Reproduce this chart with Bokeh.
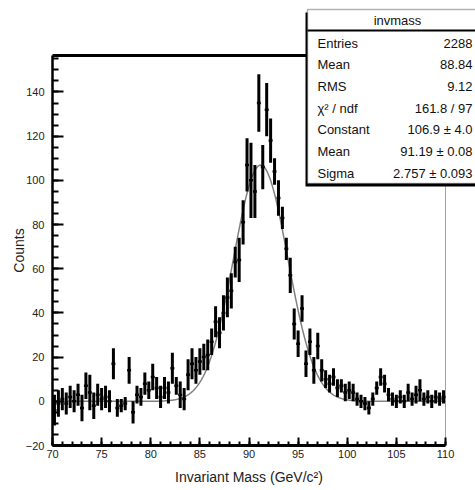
import numpy as np
from bokeh.plotting import figure
from bokeh.models import Range1d, FixedTicker, Label, BoxAnnotation, ColumnDataSource, LinearAxis
from bokeh.embed import file_html
from bokeh.resources import INLINE

# ---- histogram data (100 bins, 70-110 GeV) ----
bin_low = 70.0
bin_width = 0.4
counts = [-4, -1, 1, -1, 2, 0, 3, -3, 7, 4,
          -2, 3, 1, 2, 0, 17, -3, -2, -1, 14,
          -5, 3, 2, 8, 5, 11, 6, 2, 6, 4,
          15, 7, 3, 1, 12, 17, 14, 18, 20, 21,
          27, 36, 31, 40, 47, 50, 63, 64, 81, 107,
          100, 95, 135, 106, 132, 118, 104, 92, 83, 69,
          57, 35, 26, 42, 17, 27, 14, 25, 14, 10,
          8, 11, 6, 7, 4, 5, 4, 1, 0, -1,
          -3, 1, 6, 11, 8, 3, 1, 0, 2, 0,
          4, 1, 3, 5, 1, 2, 0, 2, 1, 2]
errors = [7, 6, 5, 5, 5, 5, 5, 6, 6, 8,
          6, 5, 5, 5, 5, 7, 4, 3, 3, 6,
          5, 4, 4, 5, 4, 6, 5, 5, 5, 5,
          7, 4, 6, 5, 7, 7, 6, 6, 6, 7,
          6, 7, 7, 8, 9, 8, 7, 10, 10, 12,
          17, 12, 13, 10, 12, 10, 6, 8, 5, 5,
          8, 7, 6, 6, 6, 6, 6, 6, 5, 4,
          4, 4, 4, 3, 4, 4, 4, 3, 3, 3,
          3, 3, 3, 4, 4, 3, 3, 3, 3, 3,
          4, 3, 4, 5, 3, 3, 3, 3, 3, 3]

# fit result (Gaussian) from the stats box
fit_constant = 106.9
fit_mean = 91.19
fit_sigma = 2.757

x_min, x_max = 70, 110
y_min, y_max = -20, 156.5
x_ticks = [70, 75, 80, 85, 90, 95, 100, 105, 110]
y_ticks = [-20, 0, 20, 40, 60, 80, 100, 120, 140]

stats_title = "invmass"
stats_labels = ["Entries", "Mean", "RMS", "\u03c7\u00b2 / ndf", "Constant", "Mean", "Sigma"]
stats_values = ["2288", "88.84", "9.12", "161.8 / 97", "106.9 \u00b1 4.0", "91.19 \u00b1 0.08", "2.757 \u00b1 0.093"]

# ---- derived ----
counts_a = np.array(counts, dtype=float)
err_a = np.array(errors, dtype=float)
centers = bin_low + bin_width * (np.arange(len(counts)) + 0.5)
src = ColumnDataSource(dict(
    x=centers, y=counts_a, lo=counts_a - err_a, hi=counts_a + err_a,
    xl=centers - bin_width / 2, xr=centers + bin_width / 2))

xf = np.linspace(x_min, x_max, 500)
yf = fit_constant * np.exp(-0.5 * ((xf - fit_mean) / fit_sigma) ** 2)

FONT = "Liberation Sans"

# page geometry: plot area spans pixels x 52..445, y 55..445 of a 475x490 canvas
W, H = 475, 490
PL, PR, PT, PB = 52, 445, 55, 445
sx = (PR - PL) / (x_max - x_min)
sy = (PB - PT) / (y_max - y_min)
xr = Range1d(x_min - PL / sx, x_max + (W - PR) / sx)
yr = Range1d(y_min - (H - PB) / sy, y_max + PT / sy)

p = figure(width=W, height=H, x_range=xr, y_range=yr,
           output_backend="svg", toolbar_location=None,
           x_axis_location=None, y_axis_location=None,
           min_border=0, min_border_left=0, min_border_right=0, min_border_top=0, min_border_bottom=0)
p.outline_line_color = None
p.grid.visible = False
p.background_fill_color = "white"
p.border_fill_color = "white"

xaxis = LinearAxis(fixed_location=y_min, bounds=(x_min, x_max))
yaxis = LinearAxis(fixed_location=x_min, bounds=(y_min, y_max))
p.add_layout(xaxis, "below")
p.add_layout(yaxis, "left")

# frame: top black line, right red line
p.segment(x0=[x_min], y0=[y_max], x1=[x_max], y1=[y_max], line_color="black", line_width=3)
p.segment(x0=[x_max], y0=[y_min], x1=[x_max], y1=[y_max], line_color="#f08080", line_width=1)

p.line(xf, yf, line_color="#808080", line_width=1.5)
p.segment(x0="x", y0="lo", x1="x", y1="hi", source=src, line_color="black", line_width=3)
p.segment(x0="xl", y0="y", x1="xr", y1="y", source=src, line_color="black", line_width=2.5)

# axes
xaxis.ticker = FixedTicker(ticks=x_ticks, minor_ticks=list(range(70, 111)))
yaxis.ticker = FixedTicker(ticks=y_ticks, minor_ticks=list(range(-20, 157, 5)))
for ax in (xaxis, yaxis):
    ax.major_tick_out = 0
    ax.minor_tick_out = 0
    ax.major_tick_line_color = "black"
    ax.minor_tick_line_color = "black"
    ax.major_tick_line_width = 2
    ax.minor_tick_line_width = 2
    ax.axis_line_color = "black"
    ax.major_label_text_font = FONT
    ax.major_label_text_font_size = "11px"
    ax.major_label_text_color = "#222222"
    ax.axis_label_text_font = FONT
    ax.axis_label_text_font_size = "14px"
    ax.axis_label_text_font_style = "normal"
    ax.axis_label_text_color = "#222222"
xaxis.major_tick_in = 8
xaxis.minor_tick_in = 4
yaxis.major_tick_in = 11
yaxis.minor_tick_in = 6
xaxis.axis_line_width = 3
yaxis.axis_line_width = 2.5
xaxis.major_label_standoff = 4
yaxis.major_label_standoff = 8
xaxis.axis_label = "Invariant Mass (GeV/c\u00b2)"
yaxis.axis_label = "Counts"
xaxis.axis_label_standoff = 8
yaxis.axis_label_standoff = -4

# stats box (canvas coords)
cu = dict(left_units="canvas", right_units="canvas", top_units="canvas", bottom_units="canvas")
p.add_layout(BoxAnnotation(left=305, right=490, top=12, bottom=186, fill_color="black",
                           fill_alpha=1, line_color=None, **cu))
p.add_layout(BoxAnnotation(left=307, right=490, top=9, bottom=183, fill_color="white",
                           fill_alpha=1, line_color="black", line_width=1.5, **cu))
p.add_layout(BoxAnnotation(left=307, right=490, top=29, bottom=31, fill_color="black",
                           fill_alpha=1, line_color=None, **cu))
p.add_layout(Label(x=397, y=20, x_units="canvas", y_units="canvas", text=stats_title,
                   text_font=FONT, text_font_size="13px", text_align="center", text_baseline="middle",
                   text_color="#111111"))
row_y = [43, 64, 86, 108, 129, 151, 173]
for lab, val, yy in zip(stats_labels, stats_values, row_y):
    p.add_layout(Label(x=317, y=yy, x_units="canvas", y_units="canvas", text=lab,
                       text_font=FONT, text_font_size="13px", text_align="left", text_baseline="middle",
                       text_color="#111111"))
    p.add_layout(Label(x=472, y=yy, x_units="canvas", y_units="canvas", text=val,
                       text_font=FONT, text_font_size="13px", text_align="right", text_baseline="middle",
                       text_color="#111111"))

open("out.html", "w").write(file_html(p, INLINE))
